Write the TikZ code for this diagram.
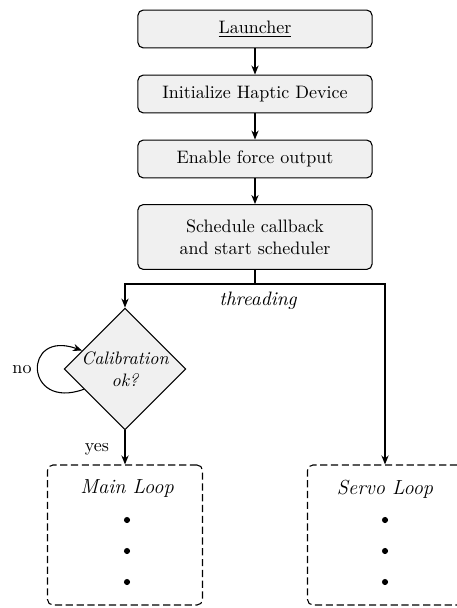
\documentclass[tikz,border=0pt]{standalone}
\usepackage{amsmath}
\usetikzlibrary{shapes.geometric,arrows.meta,calc}

\tikzset{
  stepbox/.style={fill=gray!12,draw,semithick,rounded corners=3pt,
    minimum width=130pt,minimum height=21pt,align=center},
  decision/.style={diamond,fill=gray!12,draw,semithick,inner sep=0pt,
    minimum width=66.6pt,minimum height=66.6pt,align=center,font=\itshape},
  loopbox/.style={draw,dash pattern=on 4pt off 2pt,semithick,rounded corners=3pt,
    minimum width=86pt,minimum height=77.7pt},
  looplabel/.style={font=\fontsize{11.3}{13}\selectfont\itshape},
  arr/.style={thick,-{Stealth[length=5pt,width=4pt]}}
}

\begin{document}
\begin{tikzpicture}[x=0.555pt,y=-0.555pt]
      \useasboundingbox (0,0) rectangle (456,608);
      \draw
        (255,29) node[stepbox] (launch){\underline{Launcher}}
        (255,94) node[stepbox] (init){Initialize Haptic Device}
        (255,159) node[stepbox] (force){Enable force output}
        (255,237) node[stepbox,minimum height=36pt] (sched){Schedule callback\\and start scheduler}
        (125,369) node[decision] (calib){Calibration\\ok?}
        (125,535) node[loopbox] (main){}
        (385,535) node[loopbox] (servo){};
      % loop contents
      \node[looplabel] (mainlbl) at (127,489) {Main Loop};
      \node[looplabel] (servolbl) at (385,489) {Servo Loop};
      \foreach \y in {520,551,582} {
        \fill (127,\y) circle (1.7pt);
        \fill (385,\y) circle (1.7pt);
      }
      % labels
      \node (nolbl) at (22,370) {no};
      \node (yeslbl) at (97,449) {yes};
      \node[font=\fontsize{10.8}{13}\selectfont\itshape] (thread) at (258,301) {threading};
      \begin{scope}[arr]
        \draw (launch) -- (init);
        \draw (init) -- (force);
        \draw (force) -- (sched);
        \draw[-] (sched.south) -- ++(0,14) coordinate (split);
        \draw (split) -| (calib.north);
        \draw (split) -| (servo.north);
        \draw[semithick] ($(calib.west)!0.33!(calib.south)$) to[out=200,in=160,looseness=4.2] ($(calib.west)!0.3!(calib.north)$);
        \draw (calib.south) -- (main.north);
      \end{scope}
    \end{tikzpicture}
\end{document}
